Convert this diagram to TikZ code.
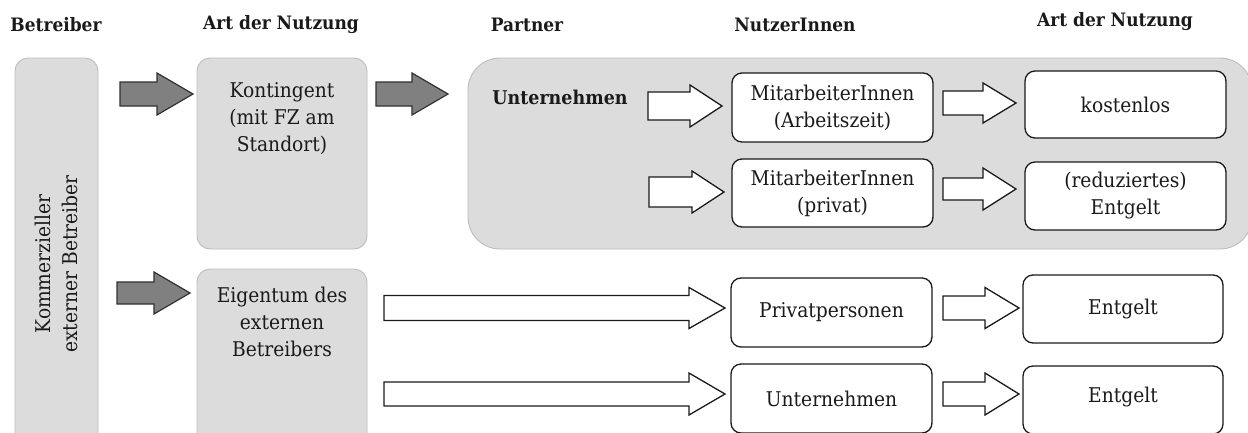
\documentclass[tikz,border=0pt]{standalone}
\usepackage{fontspec}
\setmainfont{DejaVu Serif}[FakeStretch=0.92]
\usetikzlibrary{calc}
\definecolor{panel}{HTML}{DCDCDC}
\definecolor{panelline}{HTML}{BDBDBD}
\definecolor{arrowgray}{HTML}{808080}
\definecolor{ink}{HTML}{1A1A1A}

% block arrow from #2 to #3: shaft half height #4, head half height #5, head length #6
\newcommand{\blockarrow}[6][]{%
  \draw[#1] ($(#2)+(0,-#4)$) -- ($(#3)+(-#6,-#4)$) -- ($(#3)+(-#6,-#5)$) -- (#3)
    -- ($(#3)+(-#6,#5)$) -- ($(#3)+(-#6,#4)$) -- ($(#2)+(0,#4)$) -- cycle;}

\tikzset{
  body/.style={font=\fontsize{20.3}{27}\selectfont, text=ink, align=center, inner sep=0pt},
  head/.style={font=\fontsize{18.5}{22}\selectfont\bfseries, text=ink, inner sep=0pt},
  graybox/.style={draw=panelline, fill=panel, line width=0.9pt, rounded corners=13pt, inner sep=0pt},
  whitebox/.style={draw=ink, fill=white, line width=1.3pt, rounded corners=10pt, inner sep=0pt, body},
  grayarrow/.style={draw=ink!90, fill=arrowgray, line width=1.2pt, line join=miter},
  whitearrow/.style={draw=ink, fill=white, line width=1.3pt, line join=miter},
}

\begin{document}
\begin{tikzpicture}[x=1pt, y=-1pt]
\useasboundingbox (0,0) rectangle (1248,432);

% column headings
\node[head] (h1) at (56,25) {Betreiber};
\node[head] (h2) at (281,25) {Art der Nutzung};
\node[head] (h3) at (527,25) {Partner};
\node[head] (h4) at (795,25) {NutzerInnen};
\node[head] (h5) at (1115,22) {Art der Nutzung};

% operator column
\node[graybox, body, rotate=90, minimum width=412pt, minimum height=83pt] (betr) at (56.5,264)
  {Kommerzieller\\externer Betreiber};

% usage type panels
\node[graybox, minimum width=170pt, minimum height=191pt] (kont) at (282,153.5) {};
\node[body] (kontt) at (282,118.5) {Kontingent\\(mit FZ am\\Standort)};
\node[graybox, minimum width=170pt, minimum height=190pt] (eig) at (282,364) {};
\node[body] (eigt) at (282,322) {Eigentum des\\externen\\Betreibers};

% company panel
\node[graybox, rounded corners=32pt, minimum width=784pt, minimum height=191pt] (unt) at (860,153.5) {};
\node[head, font=\fontsize{19}{24}\selectfont\bfseries] (untt) at (560,97) {Unternehmen};

% users
\node[whitebox, minimum width=201pt, minimum height=69pt] (ma1) at (832.5,107.5) {MitarbeiterInnen\\(Arbeitszeit)};
\node[whitebox, minimum width=201pt, minimum height=68pt] (ma2) at (832.5,193) {MitarbeiterInnen\\(privat)};
\node[whitebox, minimum width=201pt, minimum height=69pt] (pp) at (831.5,312.5) {Privatpersonen};
\node[whitebox, minimum width=201pt, minimum height=69pt] (un) at (831.5,398.5) {Unternehmen};

% kind of use
\node[whitebox, minimum width=201pt, minimum height=67pt] (kl) at (1125.5,104.5) {kostenlos};
\node[whitebox, minimum width=201pt, minimum height=68pt] (re) at (1125.5,196) {(reduziertes)\\Entgelt};
\node[whitebox, minimum width=200pt, minimum height=68pt] (en1) at (1123,309) {Entgelt};
\node[whitebox, minimum width=200pt, minimum height=68pt, text depth=10pt] (en2) at (1123,400) {Entgelt};

% arrow end points
\coordinate (g1s) at (120,94);  \coordinate (g1e) at (193,94);
\coordinate (g2s) at (376,94);  \coordinate (g2e) at (448,94);
\coordinate (g3s) at (117,293); \coordinate (g3e) at (190,293);
\coordinate (w1s) at (648,106); \coordinate (w1e) at (722,106);
\coordinate (w2s) at (649,192); \coordinate (w2e) at (724,192);
\coordinate (w3s) at (943,103); \coordinate (w3e) at (1016,103);
\coordinate (w4s) at (943,189); \coordinate (w4e) at (1016,189);
\coordinate (l1s) at (384,308); \coordinate (l1e) at (725,308);
\coordinate (l2s) at (384,394); \coordinate (l2e) at (725,394);
\coordinate (w5s) at (943,308); \coordinate (w5e) at (1019,308);
\coordinate (w6s) at (943,394); \coordinate (w6e) at (1019,394);

% block arrows
\blockarrow[grayarrow]{g1s}{g1e}{12}{21}{36}
\blockarrow[grayarrow]{g2s}{g2e}{12}{21}{36}
\blockarrow[grayarrow]{g3s}{g3e}{11}{21}{36}
\blockarrow[whitearrow]{w1s}{w1e}{14}{21}{32}
\blockarrow[whitearrow]{w2s}{w2e}{15}{21}{32}
\blockarrow[whitearrow]{w3s}{w3e}{12}{20}{33}
\blockarrow[whitearrow]{w4s}{w4e}{11}{21}{33}
\blockarrow[whitearrow]{l1s}{l1e}{12.5}{20.5}{36}
\blockarrow[whitearrow]{l2s}{l2e}{12}{21}{36}
\blockarrow[whitearrow]{w5s}{w5e}{12}{20.5}{34}
\blockarrow[whitearrow]{w6s}{w6e}{12}{21}{34}
\end{tikzpicture}
\end{document}
